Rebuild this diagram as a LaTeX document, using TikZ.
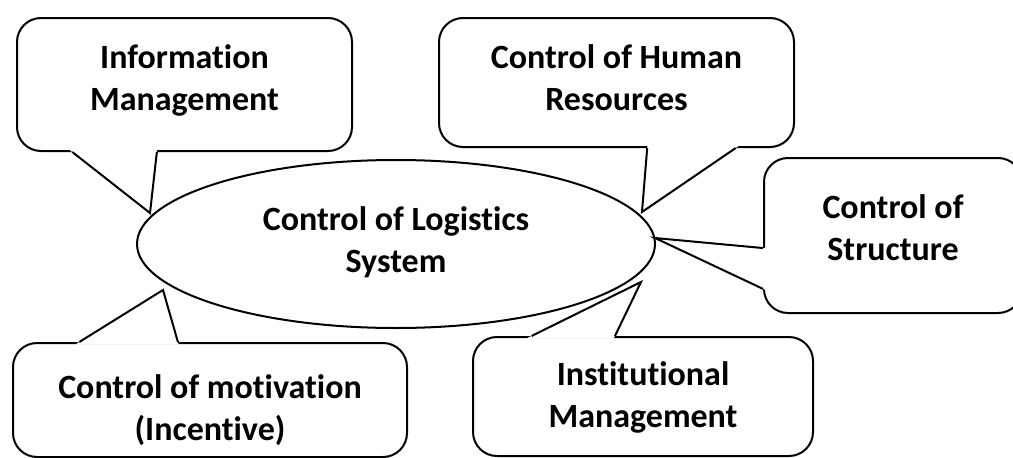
\documentclass[tikz,border=0pt]{standalone}
\usepackage{fontspec}
\setmainfont{Carlito}[Ligatures={NoCommon,NoContextual}]
\usepackage{tikz}
\usetikzlibrary{shapes,arrows,positioning,calc}
\tikzstyle{bubble} = [draw, rectangle, rounded corners=24pt, line width=2pt, align=center, inner sep=0pt, font=\bfseries\fontsize{34}{42}\selectfont]
\tikzstyle{hub} = [draw, ellipse, line width=2pt, align=center, inner sep=0pt, minimum width=518pt, minimum height=168pt, text height=80pt, text depth=24pt, font=\bfseries\fontsize{34}{42}\selectfont]
\tikzstyle{tail} = [line width=2pt]

\begin{document}
\begin{tikzpicture}[x=1pt, y=-1pt]
  \useasboundingbox (0,0) rectangle (1013,458);

  \node [bubble, minimum width=335pt, text height=92pt, text depth=41pt] (info) at (184.5,84.5) {Information\\Management};
  \node [bubble, minimum width=355pt, text height=92pt, text depth=37pt] (hum) at (616.5,82.5) {Control of Human\\Resources};
  \node [bubble, minimum width=258pt, text height=102pt, text depth=53pt] (struct) at (893,235.5) {Control of\\Structure};
  \node [bubble, minimum width=394pt, text height=97pt, text depth=17pt] (motiv) at (210,400) {Control of motivation\\(Incentive)};
  \node [bubble, minimum width=340pt, text height=90pt, text depth=29pt] (inst) at (643,396.5) {Institutional\\Management};

  % tips of the callouts, next to the ellipse
  \coordinate (tinfo) at (150,213);
  \coordinate (thum) at (642,212);
  \coordinate (tstruct) at (655,238);
  \coordinate (tmotiv) at (163,290);
  \coordinate (tinst) at (641,282);

  \coordinate (ia) at ($(info.south west)!0.167!(info.south east)$);
  \coordinate (ib) at ($(info.south west)!0.418!(info.south east)$);
  \coordinate (ha) at ($(hum.south west)!0.586!(hum.south east)$);
  \coordinate (hb) at ($(hum.south west)!0.834!(hum.south east)$);
  \coordinate (sa) at ($(struct.north west)!0.58!(struct.south west)$);
  \coordinate (sb) at ($(struct.north west)!0.84!(struct.south west)$);
  \coordinate (ma) at ($(motiv.north west)!0.17!(motiv.north east)$);
  \coordinate (mb) at ($(motiv.north west)!0.419!(motiv.north east)$);
  \coordinate (na) at ($(inst.north west)!0.174!(inst.north east)$);
  \coordinate (nb) at ($(inst.north west)!0.418!(inst.north east)$);

  \fill [white] ($(tinfo)!1.05!(ia)$) -- (tinfo) -- ($(tinfo)!1.05!(ib)$) -- cycle;
  \fill [white] ($(thum)!1.05!(ha)$) -- (thum) -- ($(thum)!1.05!(hb)$) -- cycle;
  \fill [white] ($(tstruct)!1.05!(sa)$) -- (tstruct) -- ($(tstruct)!1.05!(sb)$) -- cycle;
  \fill [white] ($(tmotiv)!1.05!(ma)$) -- (tmotiv) -- ($(tmotiv)!1.05!(mb)$) -- cycle;
  \fill [white] ($(tinst)!1.05!(na)$) -- (tinst) -- ($(tinst)!1.05!(nb)$) -- cycle;

  \draw [tail] (ia) -- (tinfo) -- (ib);
  \draw [tail] (ha) -- (thum) -- (hb);
  \draw [tail] (sa) -- (tstruct) -- (sb);
  \draw [tail] (ma) -- (tmotiv) -- (mb);
  \draw [tail] (na) -- (tinst) -- (nb);

  \node [hub] (sys) at (396,244) {Control of Logistics\\System};
\end{tikzpicture}
\end{document}
